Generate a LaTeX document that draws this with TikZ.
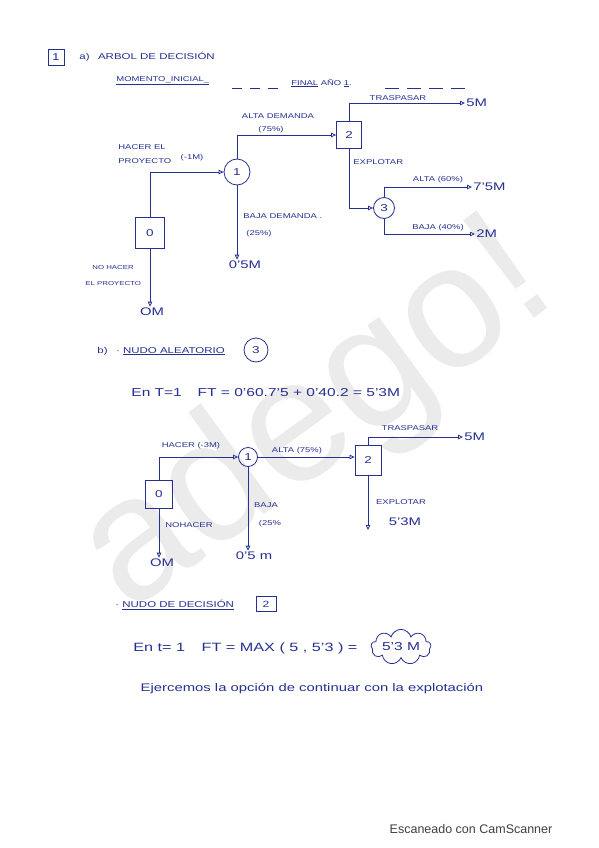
\documentclass[tikz,border=0pt]{standalone}
\usepackage{fontspec}
\setmainfont{Liberation Sans}[FakeStretch=1.35]
\newfontfamily\plainsans{Liberation Sans}
\usetikzlibrary{arrows.meta,shapes.symbols}
\definecolor{ink}{RGB}{38,48,145}
\begin{document}
\begin{tikzpicture}[x=1pt,y=-1pt, line width=0.8pt,
  every node/.style={text=ink},
  dnode/.style={draw=ink, minimum width=25pt, minimum height=27pt, inner sep=0pt, font=\fontsize{10}{11}\selectfont},
  cnode/.style={draw=ink, circle, minimum size=23pt, inner sep=0pt, font=\fontsize{10}{11}\selectfont},
  arr/.style={draw=ink, -{Triangle[open,length=5pt,width=4.5pt]}},
  lab/.style={font=\fontsize{7}{8}\selectfont, inner sep=1pt},
  labs/.style={font=\fontsize{5.8}{7}\selectfont, inner sep=1pt},
  lab8/.style={font=\fontsize{8.5}{10}\selectfont, inner sep=1pt},
  val/.style={font=\fontsize{11}{12}\selectfont, inner sep=1pt},
  txt/.style={font=\fontsize{11.5}{13}\selectfont, inner sep=1pt},
]
\useasboundingbox[fill=white] (0,0) rectangle (599,848);
% watermark
\node[rotate=36, text=black!8, font=\plainsans\fontsize{175}{175}\selectfont] (wm) at (318,420) {adego!};

% ---------- header ----------
\node[draw=ink, minimum size=16pt, inner sep=0pt, font=\fontsize{10}{11}\selectfont] (t1) at (56,57) {1};
\node[anchor=west, lab8] (ta) at (78,57) {a)\quad ARBOL DE DECISIÓN};
\node[anchor=west, lab] (mi) at (115,81) {\underline{MOMENTO\_INICIAL\_}};
\node[anchor=west, lab] (fa) at (290,83) {\underline{FINAL} AÑO \underline{1}.};
\coordinate (d1) at (232,88);
\coordinate (d2) at (282,88);
\coordinate (d3) at (385,88);
\coordinate (d4) at (468,88);
\draw[ink, dash pattern=on 10pt off 8pt] (d1) -- (d2);
\draw[ink, dash pattern=on 14pt off 8pt] (d3) -- (d4);

% ---------- tree 1 ----------
\node[dnode, minimum width=29pt, minimum height=31pt] (a0) at (150,233) {0};
\node[cnode, minimum size=26pt] (a1) at (237,172) {1};
\node[dnode] (a2) at (349,135) {2};
\node[cnode, minimum size=21pt] (a3) at (384,208) {3};
\node[val, anchor=west] (a5m) at (465,103) {5M};
\node[val, anchor=west] (a75) at (472,187) {7'5M};
\node[val, anchor=west] (a2m) at (475,234) {2M};
\node[val] (a05) at (245,265) {0'5M};
\node[val] (a0m) at (152,312) {OM};

\draw[arr] (a0.north) |- (a1.west);
\draw[arr] (a1.north) |- (a2.west);
\draw[arr] (a2.north) |- (a5m.west);
\draw[arr] (a2.south) |- (a3.west);
\draw[arr] (a3.north) |- (a75.west);
\draw[arr] (a3.south) |- (a2m.west);
\draw[arr] (a1.south) -- (a1.south |- a05.north);
\draw[arr] (a0.south) -- (a0.south |- a0m.north);

\node[lab, anchor=west] (l1) at (117,147) {HACER EL};
\node[lab, anchor=west] (l2) at (117,161) {PROYECTO};
\node[lab] (l3) at (192,158) {(-1M)};
\node[lab] (l4) at (278,116) {ALTA DEMANDA};
\node[lab] (l5) at (271,130) {(75\%)};
\node[lab] (l6) at (398,98) {TRASPASAR};
\node[lab, anchor=west] (l7) at (352,162) {EXPLOTAR};
\node[lab] (l8) at (438,180) {ALTA (60\%)};
\node[lab] (l9) at (438,228) {BAJA (40\%)};
\node[lab, anchor=west] (l10) at (242,216) {BAJA DEMANDA .};
\node[lab, anchor=west] (l11) at (245,234) {(25\%)};
\node[labs, anchor=west] (l12) at (91,268) {NO HACER};
\node[labs, anchor=west] (l13) at (84,284) {EL PROYECTO};

% ---------- part b ----------
\node[anchor=west, lab8] (b1) at (96,351) {b)\quad· \underline{NUDO ALEATORIO}};
\node[cnode, minimum size=24pt] (b3) at (256,350) {3};
\node[anchor=west, txt] (b4) at (130,393) {En T=1\quad\ FT = 0'60.7'5 + 0'40.2 = 5'3M};

% ---------- tree 2 ----------
\node[dnode, minimum width=27pt, minimum height=28pt] (c0) at (159,494) {0};
\node[cnode, minimum size=19pt] (c1) at (248,457) {1};
\node[dnode, minimum width=26pt, minimum height=30pt] (c2) at (368,460) {2};
\node[val, anchor=west] (c5m) at (463,437) {5M};
\node[val] (c53) at (405,522) {5'3M};
\node[val] (c05) at (254,556) {0'5 m};
\node[val] (c0m) at (162,563) {OM};
\coordinate (c2s) at (368,530);

\draw[arr] (c0.north) |- (c1.west);
\draw[arr] (c1.east) -- (c2.west |- c1.east);
\draw[arr] (c2.north) |- (c5m.west);
\draw[arr] (c2.south) -- (c2s);
\draw[arr] (c1.south) -- (c1.south |- c05.north);
\draw[arr] (c0.south) -- (c0.south |- c0m.north);

\node[lab] (m1) at (191,446) {HACER (-3M)};
\node[lab] (m2) at (297,451) {ALTA (75\%)};
\node[lab] (m3) at (410,428) {TRASPASAR};
\node[lab] (m4) at (401,502) {EXPLOTAR};
\node[lab] (m5) at (266,505) {BAJA};
\node[lab] (m6) at (270,524) {(25\%};
\node[lab] (m7) at (189,525) {NOHACER};

% ---------- nudo de decision ----------
\node[anchor=west, lab8] (e1) at (114,605) {· \underline{NUDO DE DECISIÓN}};
\node[draw=ink, minimum width=20pt, minimum height=15pt, inner sep=0pt, font=\fontsize{9}{10}\selectfont] (e2) at (266,604) {2};
\node[anchor=west, txt, font=\fontsize{12}{14}\selectfont] (e3) at (132,648) {En t= 1\quad\ FT = MAX ( 5 , 5'3 ) =};
\node[cloud, cloud puffs=9, aspect=2.6, draw=ink, inner sep=0pt, minimum width=60pt, minimum height=24pt, txt] (e4) at (401,647) {5'3 M};
\node[txt, font=\fontsize{11}{13}\selectfont] (e5) at (312,689) {Ejercemos la opción de continuar con la explotación};

% ---------- footer ----------
\node[anchor=west, text=black!75, font=\plainsans\fontsize{12.5}{14}\selectfont] (f1) at (386,829) {Escaneado con CamScanner};
\end{tikzpicture}
\end{document}
